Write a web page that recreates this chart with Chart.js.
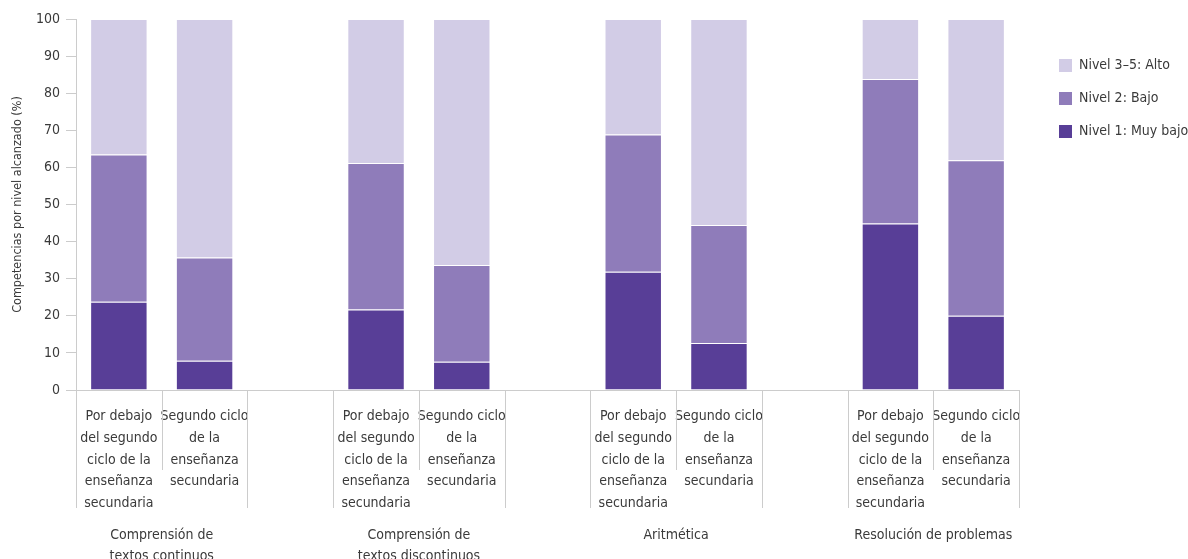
<!DOCTYPE html>
<html>
<head>
<meta charset="utf-8">
<script src="https://cdn.jsdelivr.net/npm/chart.js@4.4.1/dist/chart.umd.min.js"></script>
<style>
  html, body { margin: 0; padding: 0; background: #fff; }
  #wrap { width: 1188px; height: 559px; }
</style>
</head>
<body>
<div id="wrap"><canvas id="chart"></canvas></div>
<script>
// ===== data
const barLabels = [
    ["Por debajo", "del segundo", "ciclo de la", "enseñanza", "secundaria"],
    ["Segundo ciclo", "de la", "enseñanza", "secundaria"],
    "",
    ["Por debajo", "del segundo", "ciclo de la", "enseñanza", "secundaria"],
    ["Segundo ciclo", "de la", "enseñanza", "secundaria"],
    "",
    ["Por debajo", "del segundo", "ciclo de la", "enseñanza", "secundaria"],
    ["Segundo ciclo", "de la", "enseñanza", "secundaria"],
    "",
    ["Por debajo", "del segundo", "ciclo de la", "enseñanza", "secundaria"],
    ["Segundo ciclo", "de la", "enseñanza", "secundaria"],
];
const groupLabels = [
    ["Comprensión de", "textos continuos"],
    ["Comprensión de", "textos discontinuos"],
    ["Aritmética"],
    ["Resolución de problemas"],
];
const groupStart = [0, 3, 6, 9]; // first bar index of each group

const nivel1 = [23.8, 7.9, null, 21.7, 7.6, null, 31.9, 12.7, null, 44.9, 20.0];
const nivel2 = [39.7, 27.8, null, 39.5, 26.1, null, 37.0, 31.8, null, 38.9, 41.9];
const nivel3 = [36.5, 64.3, null, 38.8, 66.3, null, 31.1, 55.5, null, 16.2, 38.1];

const yMin = 0, yMax = 100, yStep = 10;

// ===== styles
const FONT = '"Liberation Sans Narrow", "DejaVu Sans Condensed", "Arial Narrow", sans-serif';
const TEXT = "#3a3a3a";
const LINE = "#cccccc";

// separators under the axis + group names + legend
const extras = {
    id: "extras",
    afterDraw(chart) {
        const { ctx, scales: { x }, chartArea } = chart;
        const n = chart.data.labels.length;
        const half = (x.getPixelForValue(1) - x.getPixelForValue(0)) / 2;
        const base = chartArea.bottom;

        ctx.save();
        ctx.strokeStyle = LINE;
        ctx.lineWidth = 1;
        for (let i = 0; i <= n; i++) {
            const edge = i < n ? x.getPixelForValue(i) - half : x.getPixelForValue(n - 1) + half;
            const px = Math.round(edge) + 0.5;
            const inner = groupStart.includes(i - 1);
            ctx.beginPath();
            ctx.moveTo(px, base);
            ctx.lineTo(px, base + (inner ? 80 : 118));
            ctx.stroke();
        }

        // group names
        ctx.fillStyle = TEXT;
        ctx.font = "14px " + FONT;
        ctx.textAlign = "center";
        ctx.textBaseline = "middle";
        groupLabels.forEach((lines, g) => {
            const i = groupStart[g];
            const cx = (x.getPixelForValue(i) + x.getPixelForValue(i + 1)) / 2;
            lines.forEach((t, k) => ctx.fillText(t, cx, base + 145 + k * 21));
        });

        // legend (top dataset first)
        const sets = [...chart.data.datasets].reverse();
        const lx = chartArea.right + 40;
        ctx.textAlign = "left";
        sets.forEach((ds, k) => {
            const cy = 65 + k * 33.3;
            ctx.fillStyle = ds.backgroundColor;
            ctx.fillRect(lx, Math.round(cy - 6.5), 13, 13);
            ctx.fillStyle = TEXT;
            ctx.fillText(ds.label, lx + 20, cy);
        });
        ctx.restore();
    },
};

const barStyle = {
    stack: "s",
    barPercentage: 0.67,
    categoryPercentage: 1,
    borderWidth: 1,
    borderColor: "rgba(255,255,255,0.3)",
};

new Chart(document.getElementById("chart"), {
    type: "bar",
    data: {
        labels: barLabels,
        datasets: [
            { label: "Nivel 1: Muy bajo", data: nivel1, backgroundColor: "#583e97", ...barStyle },
            { label: "Nivel 2: Bajo", data: nivel2, backgroundColor: "#8f7cba", ...barStyle },
            { label: "Nivel 3–5: Alto", data: nivel3, backgroundColor: "#d2cce6", ...barStyle },
        ],
    },
    options: {
        responsive: true,
        maintainAspectRatio: false,
        animation: false,
        layout: { padding: { top: 19, right: 169, left: 0, bottom: 0 } },
        plugins: {
            legend: { display: false },
            tooltip: { enabled: false },
        },
        scales: {
            x: {
                stacked: true,
                afterFit: (s) => { s.height = 169; },
                grid: { display: true, drawOnChartArea: false, drawTicks: false },
                border: { display: true, color: LINE, width: 1 },
                ticks: {
                    autoSkip: false,
                    maxRotation: 0,
                    padding: 16,
                    color: TEXT,
                    font: { family: FONT, size: 14, lineHeight: 1.54 },
                },
            },
            y: {
                stacked: true,
                min: yMin,
                max: yMax,
                afterFit: (s) => { s.width = 76; },
                grid: { drawOnChartArea: false, drawTicks: true, tickLength: 10, color: LINE },
                border: { display: true, color: LINE, width: 1 },
                ticks: {
                    stepSize: yStep,
                    padding: 6,
                    color: TEXT,
                    font: { family: FONT, size: 14 },
                },
                title: {
                    display: true,
                    text: "Competencias por nivel alcanzado (%)",
                    color: TEXT,
                    font: { family: FONT, size: 12.5 },
                    padding: { top: 10, bottom: 0 },
                },
            },
        },
    },
    plugins: [extras],
});
</script>
</body>
</html>
